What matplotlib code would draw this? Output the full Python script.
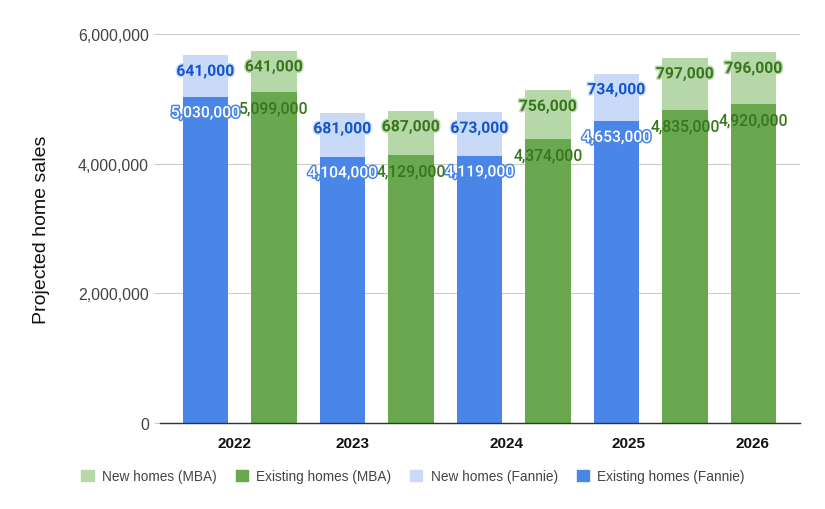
import matplotlib
matplotlib.use("Agg")
import matplotlib.pyplot as plt
import matplotlib.patheffects as pe
from matplotlib.ticker import FuncFormatter
from matplotlib.patches import Patch

years = ["2022", "2023", "2024", "2025", "2026"]
fannie_existing = [5030000, 4104000, 4119000, 4653000]
fannie_new = [641000, 681000, 673000, 734000]
mba_existing = [5099000, 4129000, 4374000, 4835000, 4920000]
mba_new = [641000, 687000, 756000, 797000, 796000]

c_fe, c_fn = "#4a86e8", "#c9daf8"
c_me, c_mn = "#6aa84f", "#b6d7a8"
c_blue_txt, c_green_txt = "#1155cc", "#38761d"

plt.rcParams['font.family'] = ['Liberation Sans', 'DejaVu Sans']

fig = plt.figure(figsize=(8.25, 5.1), dpi=100)
ax = fig.add_axes([160/825, 1-424/510, 640/825, (424-35)/510])

fx = [0, 2, 4, 6]
mx = [1, 3, 5, 7, 8]
w = 0.657

ax.bar(fx, fannie_existing, w, color=c_fe, zorder=2)
ax.bar(fx, fannie_new, w, bottom=fannie_existing, color=c_fn, zorder=2)
ax.bar(mx, mba_existing, w, color=c_me, zorder=2)
ax.bar(mx, mba_new, w, bottom=mba_existing, color=c_mn, zorder=2)

def lab(x, top, val, color, halo, bold):
    effects = [pe.withStroke(linewidth=2.2, foreground=halo)] if halo else []
    ax.annotate(f"{val:,}", (x, top), xytext=(0, -11.5), textcoords="offset points",
                ha="center", va="center", fontsize=11.3, color=color,
                family=["Roboto", "DejaVu Sans"],
                fontweight="bold" if bold else "medium", zorder=5,
                path_effects=effects)

for x, e, n in zip(fx, fannie_existing, fannie_new):
    lab(x, e, e, "white", c_fe, False)
    lab(x, e + n, n, c_blue_txt, c_fn, True)
for x, e, n in zip(mx, mba_existing, mba_new):
    lab(x, e, e, c_green_txt, None, False)
    lab(x, e + n, n, c_green_txt, c_mn, True)

ax.set_xlim((160-205.5)/68.5, (800-205.5)/68.5)
ax.set_ylim(0, 6000000)
ax.set_yticks([0, 2000000, 4000000, 6000000])
ax.yaxis.set_major_formatter(FuncFormatter(lambda v, p: f"{int(v):,}"))
ax.set_xticks([0.42, 2.14, 4.39, 6.17, 7.98])
ax.set_xticklabels(years, fontweight="bold", fontsize=11, color="#111111")
ax.tick_params(axis="x", length=0, pad=9)
ax.tick_params(axis="y", length=4, color="#cccccc", labelsize=11.5, labelcolor="#444444", pad=4)
ax.grid(axis="y", color="#cccccc", linewidth=0.8, zorder=0)
for s in ["top", "right", "left"]:
    ax.spines[s].set_visible(False)
ax.spines["bottom"].set_color("#333333")
ax.spines["bottom"].set_linewidth(1)
ax.spines["bottom"].set_zorder(3)
ax.set_ylabel("Projected home sales", fontsize=14, color="#111111", labelpad=20)

handles = [Patch(color=c_mn), Patch(color=c_me), Patch(color=c_fn), Patch(color=c_fe)]
labels = ["New homes (MBA)", "Existing homes (MBA)", "New homes (Fannie)", "Existing homes (Fannie)"]
leg = fig.legend(handles, labels, loc="center", bbox_to_anchor=(413/825, 1-477/510), ncol=4,
                 frameon=False, fontsize=9.8, handlelength=0.9, handleheight=0.9,
                 handletextpad=0.6, columnspacing=1.4)
for t in leg.get_texts():
    t.set_color("#444444")

fig.savefig("out.png", dpi=100)
